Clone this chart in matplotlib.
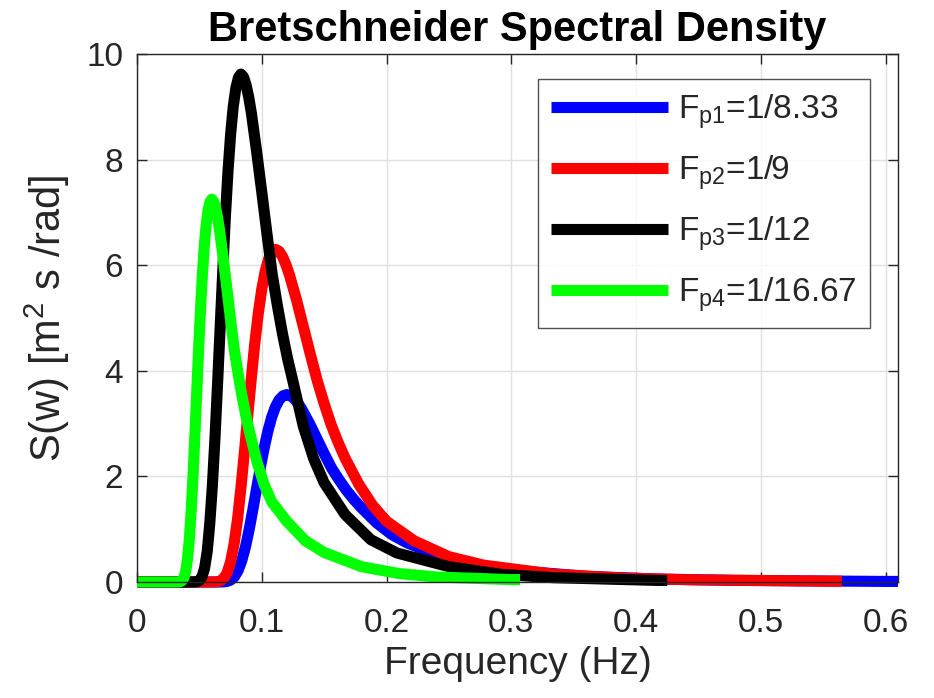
import matplotlib
matplotlib.use("Agg")
import matplotlib.pyplot as plt

# ---------------- data ----------------
f1 = [0, 0.060, 0.066, 0.069, 0.072, 0.075, 0.078, 0.081, 0.084, 0.087, 0.090, 0.093,
      0.096, 0.099, 0.102, 0.105, 0.108, 0.111, 0.114, 0.117, 0.120, 0.123, 0.126,
      0.129, 0.132, 0.138, 0.144, 0.150, 0.156, 0.162, 0.168, 0.174, 0.180, 0.192,
      0.204, 0.216, 0.240, 0.270, 0.300, 0.360, 0.420, 0.480, 0.600, 0.610]
s1 = [0, 0, 0.0003, 0.002, 0.010, 0.036, 0.097, 0.215, 0.405, 0.671, 1.005, 1.388,
      1.789, 2.183, 2.545, 2.865, 3.124, 3.319, 3.451, 3.525, 3.550, 3.529, 3.472,
      3.387, 3.277, 3.014, 2.726, 2.432, 2.155, 1.935, 1.732, 1.558, 1.402, 1.122,
      0.902, 0.746, 0.518, 0.330, 0.224, 0.107, 0.054, 0.030, 0.011, 0.011]

f2 = [0, 0.0556, 0.0611, 0.0639, 0.0667, 0.0694, 0.0722, 0.0750, 0.0778, 0.0806, 0.0833,
      0.0861, 0.0889, 0.0917, 0.0944, 0.0972, 0.1000, 0.1028, 0.1056, 0.1083, 0.1111,
      0.1139, 0.1167, 0.1194, 0.1222, 0.1278, 0.1333, 0.1389, 0.1444, 0.1500, 0.1556,
      0.1611, 0.1667, 0.1778, 0.1889, 0.2000, 0.2222, 0.2500, 0.2778, 0.3333, 0.3889,
      0.4444, 0.5556, 0.5650]
s2 = [0, 0, 0.0005, 0.004, 0.018, 0.064, 0.173, 0.381, 0.718, 1.191, 1.783,
      2.463, 3.175, 3.875, 4.517, 5.084, 5.544, 5.891, 6.124, 6.256, 6.300,
      6.262, 6.161, 6.010, 5.815, 5.349, 4.838, 4.316, 3.820, 3.380, 2.980,
      2.650, 2.350, 1.850, 1.450, 1.150, 0.780, 0.480, 0.320, 0.150, 0.075,
      0.042, 0.015, 0.015]

f3 = [0, 0.0417, 0.0458, 0.0479, 0.0500, 0.0521, 0.0542, 0.0563, 0.0583, 0.0604, 0.0625,
      0.0646, 0.0667, 0.0688, 0.0708, 0.0729, 0.0750, 0.0771, 0.0792, 0.0813, 0.0833,
      0.0854, 0.0875, 0.0896, 0.0917, 0.0958, 0.1000, 0.1042, 0.1083, 0.1125, 0.1167,
      0.1208, 0.1250, 0.1333, 0.1417, 0.1500, 0.1667, 0.1875, 0.2083, 0.2500, 0.2917,
      0.3333, 0.4167, 0.4250]
s3 = [0, 0, 0.0008, 0.006, 0.028, 0.097, 0.264, 0.582, 1.097, 1.817, 2.722,
      3.761, 4.848, 5.916, 6.898, 7.763, 8.466, 8.995, 9.351, 9.553, 9.620,
      9.563, 9.408, 9.177, 8.879, 8.167, 7.388, 6.590, 5.840, 5.240, 4.690,
      4.220, 3.800, 2.950, 2.330, 1.880, 1.280, 0.800, 0.550, 0.290, 0.146,
      0.082, 0.030, 0.030]

f4 = [0, 0.0300, 0.0330, 0.0345, 0.0360, 0.0375, 0.0390, 0.0405, 0.0420, 0.0435, 0.0450,
      0.0465, 0.0480, 0.0495, 0.0510, 0.0525, 0.0540, 0.0555, 0.0570, 0.0585, 0.0600,
      0.0615, 0.0630, 0.0645, 0.0660, 0.0690, 0.0720, 0.0750, 0.0780, 0.0810, 0.0840,
      0.0870, 0.0900, 0.0960, 0.1020, 0.1080, 0.1200, 0.1350, 0.1500, 0.1800, 0.2100,
      0.2400, 0.3000, 0.3070]
s4 = [0, 0, 0.0006, 0.004, 0.021, 0.073, 0.199, 0.439, 0.827, 1.370, 2.052,
      2.835, 3.654, 4.459, 5.198, 5.851, 6.380, 6.779, 7.047, 7.199, 7.250,
      7.207, 7.091, 6.917, 6.692, 6.157, 5.568, 4.969, 4.400, 3.950, 3.540,
      3.180, 2.860, 2.290, 1.840, 1.520, 1.150, 0.780, 0.560, 0.290, 0.160,
      0.095, 0.045, 0.045]

labels = [r'F$_{\mathrm{p1}}$=1/8.33', r'F$_{\mathrm{p2}}$=1/9',
          r'F$_{\mathrm{p3}}$=1/12', r'F$_{\mathrm{p4}}$=1/16.67']
colors = ['#0000ff', '#ff0000', '#000000', '#00ff00']
xticks = [0, 0.1, 0.2, 0.3, 0.4, 0.5, 0.6]
xticklabels = ['0', '0.1', '0.2', '0.3', '0.4', '0.5', '0.6']
yticks = [0, 2, 4, 6, 8, 10]
yticklabels = ['0', '2', '4', '6', '8', '10']

# ---------------- fonts ----------------
fam = 'Liberation Sans'
plt.rcParams['font.family'] = [fam, 'DejaVu Sans']
plt.rcParams['mathtext.fontset'] = 'custom'
plt.rcParams['mathtext.rm'] = fam
plt.rcParams['mathtext.it'] = fam
plt.rcParams['mathtext.bf'] = fam + ':bold'

txt = '#262626'
fig = plt.figure(figsize=(9.34, 6.98), dpi=100)
ax = fig.add_axes([137/934, 1-582/698, (898-137)/934, (582-54)/698])

for f, s, c, lab in zip([f1, f2, f3, f4], [s1, s2, s3, s4], colors, labels):
    ax.plot(f, s, color=c, lw=8, label=lab, clip_on=False, solid_capstyle='butt',
            solid_joinstyle='round')

ax.set_xlim(0, 0.61)
ax.set_ylim(0, 10)
ax.set_xticks(xticks)
ax.set_xticklabels(xticklabels)
ax.set_yticks(yticks)
ax.set_yticklabels(yticklabels)
ax.grid(True, color='#e0e0e0', lw=1.0)
ax.set_axisbelow(True)
ax.tick_params(direction='in', length=7, width=1, top=True, right=True,
               labelsize=24, colors=txt)
ax.tick_params(axis='x', pad=19)
ax.tick_params(axis='y', pad=10)
for sp in ax.spines.values():
    sp.set_color(txt)
    sp.set_linewidth(1.0)

ax.set_xlabel('Frequency (Hz)', fontsize=28, color=txt, labelpad=5)
ax.set_ylabel(r'S(w) [m$^2$ s /rad]', fontsize=30, color=txt, labelpad=10)
ax.set_title('Bretschneider Spectral Density', fontsize=30, fontweight='bold', pad=9)

leg = ax.legend(loc='upper right', bbox_to_anchor=((870-137)/761, (582-79)/528),
                fontsize=24, frameon=True, fancybox=False, handlelength=3.5,
                handletextpad=0.3, borderaxespad=0, labelspacing=0.68,
                borderpad=0.4)
leg.get_frame().set_edgecolor(txt)
leg.get_frame().set_linewidth(1.0)
for t in leg.get_texts():
    t.set_color(txt)

fig.savefig('out.png', dpi=100)
